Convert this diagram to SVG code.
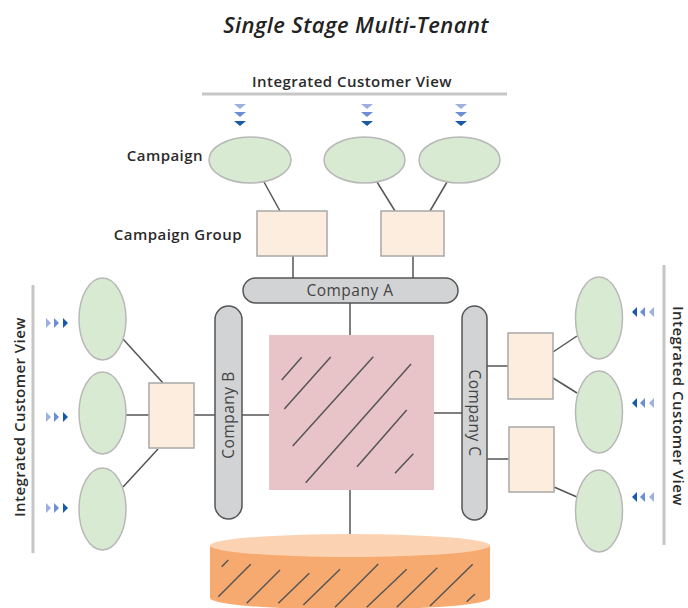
<svg xmlns="http://www.w3.org/2000/svg" width="688" height="608" viewBox="0 0 688 608">
  <style>
    .title { font-family: "Open Sans", sans-serif; font-style: italic; font-weight: 600; font-size: 22px; letter-spacing: 0.4px; fill: #222; }
    .lbl { font-family: "Open Sans", sans-serif; font-weight: 600; font-size: 15px; letter-spacing: 0.45px; fill: #2a2a2a; }
    .co { font-family: "Open Sans", sans-serif; font-weight: 400; font-size: 15.5px; letter-spacing: 0.5px; fill: #444; }
    .ell { fill: #d9ead3; stroke: #b8b8b8; stroke-width: 1.5; }
    .grp { fill: #fdeddf; stroke: #a8a8a8; stroke-width: 1.5; }
    .bar { fill: #d2d3d5; stroke: #555; stroke-width: 1.5; }
    .rule { stroke: #c6c6c6; stroke-width: 3; fill: none; }
    .wire { stroke: #555; stroke-width: 1.5; fill: none; }
    .hatch { stroke: #555; stroke-width: 1.5; fill: none; }
    .a1 { fill: #9db0de; }
    .a2 { fill: #6b8fd2; }
    .a3 { fill: #175aa9; }
  </style>
  <defs>
    <!-- triple chevron pointing down -->
    <g id="downArrows">
      <polygon class="a1" points="-6,0 6,0 0,5"/>
      <polygon class="a2" points="-6,8 6,8 0,13"/>
      <polygon class="a3" points="-6,17 6,17 0,22"/>
    </g>
    <!-- triple chevron pointing right -->
    <g id="rightArrows">
      <polygon class="a1" points="0,-5 5,0 0,5"/>
      <polygon class="a2" points="8,-5 13,0 8,5"/>
      <polygon class="a3" points="17,-5 22,0 17,5"/>
    </g>
    <!-- triple chevron pointing left -->
    <g id="leftArrows">
      <polygon class="a3" points="5,-5 0,0 5,5"/>
      <polygon class="a2" points="13,-5 8,0 13,5"/>
      <polygon class="a1" points="22,-5 17,0 22,5"/>
    </g>
  </defs>

  <rect width="688" height="608" fill="#ffffff"/>

  <text class="title" x="356" y="33" text-anchor="middle">Single Stage Multi-Tenant</text>

  <!-- top customer view -->
  <g id="top-view">
    <text class="lbl" x="352" y="87" text-anchor="middle">Integrated Customer View</text>
    <line class="rule" x1="202" y1="94" x2="507" y2="94"/>
    <use href="#downArrows" x="240" y="104"/>
    <use href="#downArrows" x="367" y="104"/>
    <use href="#downArrows" x="461" y="104"/>
  </g>

  <!-- left customer view -->
  <g id="left-view">
    <text class="lbl" transform="translate(25,417) rotate(-90)" text-anchor="middle">Integrated Customer View</text>
    <line class="rule" x1="33" y1="285" x2="33" y2="553"/>
    <use href="#rightArrows" x="46" y="323"/>
    <use href="#rightArrows" x="46" y="417"/>
    <use href="#rightArrows" x="46" y="508"/>
  </g>

  <!-- right customer view -->
  <g id="right-view">
    <text class="lbl" transform="translate(673,406) rotate(90)" text-anchor="middle">Integrated Customer View</text>
    <line class="rule" x1="664" y1="265" x2="664" y2="545"/>
    <use href="#leftArrows" x="632" y="312"/>
    <use href="#leftArrows" x="632" y="403"/>
    <use href="#leftArrows" x="632" y="497"/>
  </g>

  <text class="lbl" x="203" y="161" text-anchor="end">Campaign</text>
  <text class="lbl" x="242" y="240" text-anchor="end">Campaign Group</text>

  <!-- connectors -->
  <g id="connectors">
    <line class="wire" x1="264" y1="182" x2="280" y2="211"/>
    <line class="wire" x1="377" y1="182" x2="395" y2="211"/>
    <line class="wire" x1="447" y1="182" x2="430" y2="211"/>
    <line class="wire" x1="293" y1="256" x2="293" y2="278"/>
    <line class="wire" x1="413" y1="256" x2="413" y2="278"/>
    <line class="wire" x1="350" y1="303" x2="350" y2="335"/>
    <line class="wire" x1="350" y1="490" x2="350" y2="540"/>
    <line class="wire" x1="242" y1="415" x2="269" y2="415"/>
    <line class="wire" x1="434" y1="413" x2="462" y2="413"/>
    <line class="wire" x1="194" y1="415" x2="215" y2="415"/>
    <line class="wire" x1="123" y1="339" x2="163" y2="383"/>
    <line class="wire" x1="126" y1="415" x2="149" y2="415"/>
    <line class="wire" x1="123" y1="487" x2="158" y2="449"/>
    <line class="wire" x1="487" y1="366" x2="508" y2="366"/>
    <line class="wire" x1="487" y1="459" x2="509" y2="459"/>
    <line class="wire" x1="553" y1="352" x2="577" y2="336"/>
    <line class="wire" x1="553" y1="378" x2="577" y2="393"/>
    <line class="wire" x1="554" y1="487" x2="577" y2="497"/>
  </g>

  <!-- campaigns -->
  <g id="campaign-1"><ellipse class="ell" cx="250" cy="160" rx="41" ry="23"/></g>
  <g id="campaign-2"><ellipse class="ell" cx="364.5" cy="160" rx="40.5" ry="23"/></g>
  <g id="campaign-3"><ellipse class="ell" cx="459.5" cy="160" rx="40.5" ry="23"/></g>

  <!-- campaign groups -->
  <g id="group-top-1"><rect class="grp" x="257" y="211" width="70" height="45"/></g>
  <g id="group-top-2"><rect class="grp" x="381" y="211" width="63" height="45"/></g>

  <!-- companies -->
  <g id="company-a">
    <rect class="bar" x="243" y="278" width="215" height="25" rx="12.5"/>
    <text class="co" x="350" y="296" text-anchor="middle">Company A</text>
  </g>
  <g id="company-b">
    <rect class="bar" x="215" y="306" width="27" height="213" rx="13.5"/>
    <text class="co" transform="translate(234,415) rotate(-90)" text-anchor="middle">Company B</text>
  </g>
  <g id="company-c">
    <rect class="bar" x="462" y="306" width="25" height="214" rx="12.5"/>
    <text class="co" transform="translate(469,413) rotate(90)" text-anchor="middle">Company C</text>
  </g>

  <!-- shared store -->
  <g id="shared-store">
    <rect x="269" y="335" width="165" height="155" fill="#e8c4c9"/>
    <line class="hatch" x1="281.7" y1="380" x2="301.7" y2="357.3"/>
    <line class="hatch" x1="284.3" y1="409" x2="330.7" y2="357"/>
    <line class="hatch" x1="292.7" y1="446" x2="373.3" y2="356.7"/>
    <line class="hatch" x1="305.7" y1="482.7" x2="411" y2="364"/>
    <line class="hatch" x1="357" y1="466.7" x2="406.7" y2="410"/>
    <line class="hatch" x1="395" y1="473.3" x2="413.3" y2="453.7"/>
  </g>

  <!-- left side -->
  <g id="left-cust-1"><ellipse class="ell" cx="102.5" cy="319" rx="23.5" ry="41"/></g>
  <g id="left-cust-2"><ellipse class="ell" cx="102.5" cy="413" rx="23.5" ry="41"/></g>
  <g id="left-cust-3"><ellipse class="ell" cx="102.5" cy="509" rx="23.5" ry="41"/></g>
  <g id="left-group"><rect class="grp" x="149" y="383" width="45" height="65"/></g>

  <!-- right side -->
  <g id="right-group-1"><rect class="grp" x="508" y="333" width="45" height="66"/></g>
  <g id="right-group-2"><rect class="grp" x="509" y="427" width="45" height="65"/></g>
  <g id="right-cust-1"><ellipse class="ell" cx="599" cy="318" rx="23.5" ry="41"/></g>
  <g id="right-cust-2"><ellipse class="ell" cx="599" cy="412" rx="23.5" ry="41"/></g>
  <g id="right-cust-3"><ellipse class="ell" cx="599" cy="511" rx="23.5" ry="41"/></g>

  <!-- database cylinder -->
  <g id="database">
    <path d="M210,545.5 V598 A140,11.5 0 0 0 490,598 V545.5 Z" fill="#f7aa70"/>
    <ellipse cx="350" cy="545.5" rx="140" ry="11.5" fill="#fcd3b2"/>
    <line class="hatch" x1="221.7" y1="566.7" x2="228.3" y2="560"/>
    <line class="hatch" x1="218.3" y1="596.7" x2="250.7" y2="564.3"/>
    <line class="hatch" x1="246.7" y1="603.3" x2="280" y2="570"/>
    <line class="hatch" x1="278.3" y1="603.3" x2="309.3" y2="573.3"/>
    <line class="hatch" x1="303.3" y1="605" x2="340" y2="569.3"/>
    <line class="hatch" x1="335" y1="607.3" x2="378.3" y2="564"/>
    <line class="hatch" x1="366.7" y1="607.3" x2="406.7" y2="569.3"/>
    <line class="hatch" x1="396.7" y1="607.3" x2="437.3" y2="567.7"/>
    <line class="hatch" x1="430" y1="606" x2="472.7" y2="564.3"/>
    <line class="hatch" x1="466.7" y1="601.7" x2="475" y2="594"/>
  </g>
</svg>
